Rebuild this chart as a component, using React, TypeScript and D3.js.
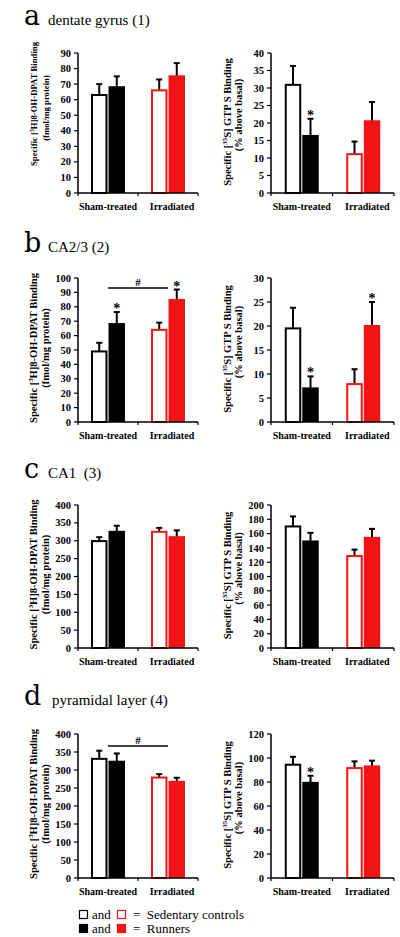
import React from "react";
import * as d3 from "d3";

// ---------- data ----------
const groups = ["Sham-treated", "Irradiated"];
const conditions = ["Sedentary", "Runners"];

const panelLetters = ["a", "b", "c", "d"];
const panelTitles = ["dentate gyrus (1)", "CA2/3 (2)", "CA1  (3)", "pyramidal layer (4)"];

// order: Sham sedentary, Sham runners, Irradiated sedentary, Irradiated runners
const aLeftMean = [63, 68, 66, 75];
const aLeftErr = [7, 7, 7, 8.5];
const aLeftStar = [false, false, false, false];
const aLeftTicks = [0, 10, 20, 30, 40, 50, 60, 70, 80, 90];
const aRightMean = [30.9, 16.3, 11.1, 20.5];
const aRightErr = [5.4, 4.9, 3.6, 5.5];
const aRightStar = [false, true, false, false];
const aRightTicks = [0, 5, 10, 15, 20, 25, 30, 35, 40];

const bLeftMean = [49, 68, 64, 84.7];
const bLeftErr = [6, 8.4, 5, 7.3];
const bLeftStar = [false, true, false, true];
const bLeftTicks = [0, 10, 20, 30, 40, 50, 60, 70, 80, 90, 100];
const bLeftHash = 93;
const bRightMean = [19.5, 7.0, 7.9, 20];
const bRightErr = [4.3, 2.5, 3.1, 5];
const bRightStar = [false, true, false, true];
const bRightTicks = [0, 5, 10, 15, 20, 25, 30];

const cLeftMean = [299, 325, 325, 310];
const cLeftErr = [11, 17, 11, 19];
const cLeftStar = [false, false, false, false];
const cLeftTicks = [0, 50, 100, 150, 200, 250, 300, 350, 400];
const cRightMean = [170, 149, 128.6, 154];
const cRightErr = [14, 12, 9, 12.6];
const cRightStar = [false, false, false, false];
const cRightTicks = [0, 20, 40, 60, 80, 100, 120, 140, 160, 180, 200];

const dLeftMean = [331, 323, 279, 267];
const dLeftErr = [22.6, 23, 9.6, 11.5];
const dLeftStar = [false, false, false, false];
const dLeftTicks = [0, 50, 100, 150, 200, 250, 300, 350, 400];
const dLeftHash = 367;
const dRightMean = [94.4, 79.3, 91.6, 93];
const dRightErr = [6.6, 5.9, 5.6, 4.8];
const dRightStar = [false, true, false, false];
const dRightTicks = [0, 20, 40, 60, 80, 100, 120];

const leftYLabel = ["Specific [", "3", "H]8-OH-DPAT Binding"];
const leftYLabel2 = "(fmol/mg protein)";
const rightYLabel = ["Specific [", "35", "S] GTP S Binding"];
const rightYLabel2 = "(% above basal)";

const legendRows = ["Sedentary controls", "Runners"];

// ---------- layout ----------
const SERIF = "'Liberation Serif', 'Times New Roman', serif";
const RED = "#f21414";

type PlotProps = {
  x0: number; x1: number; top: number; bottom: number;
  means: number[]; errs: number[]; stars: boolean[]; ticks: number[];
  hash?: number; side: "left" | "right"; labelSize: number;
  labelShift1: number; labelShift2: number;
};

function Plot(p: PlotProps) {
  const max = p.ticks[p.ticks.length - 1];
  const y = d3.scaleLinear().domain([0, max]).range([p.bottom, p.top]);
  const outer = d3.scaleBand<string>().domain(groups).range([p.x0, p.x1]).padding(0);
  const inner = d3.scaleBand<number>().domain([0, 1]).range([0, 34]).paddingInner(0.06);
  const bw = inner.bandwidth();
  const center = (g: string) => (outer(g) as number) + outer.bandwidth() / 2;
  const mid = (p.top + p.bottom) / 2;
  const lab = p.side === "left" ? leftYLabel : rightYLabel;
  const lab2 = p.side === "left" ? leftYLabel2 : rightYLabel2;
  const lx1 = p.side === "left" ? 37 : 231;
  const lx2 = p.side === "left" ? 49 : 242;
  return (
    <g>
      {/* y label */}
      <text transform={`translate(${lx1},${mid + p.labelShift1}) rotate(-90)`} textAnchor="middle"
        fontFamily={SERIF} fontWeight="bold" fontSize={p.labelSize}>
        <tspan>{lab[0]}</tspan>
        <tspan fontSize={p.labelSize * 0.65} dy={-p.labelSize * 0.35}>{lab[1]}</tspan>
        <tspan dy={p.labelSize * 0.35}>{lab[2]}</tspan>
      </text>
      <text transform={`translate(${lx2},${mid + p.labelShift2}) rotate(-90)`} textAnchor="middle"
        fontFamily={SERIF} fontWeight="bold" fontSize={p.labelSize}>{lab2}</text>
      {/* bars */}
      {p.means.map((m, i) => {
        const g = groups[Math.floor(i / 2)];
        const c = i % 2;
        const color = Math.floor(i / 2) === 0 ? "#000" : RED;
        const bx = center(g) - 17 + (inner(c) as number);
        const cx = bx + bw / 2;
        const yTop = y(m);
        const yErr = y(m + p.errs[i]);
        return (
          <g key={i}>
            <line x1={cx} x2={cx} y1={yTop} y2={yErr} stroke="#000" strokeWidth={2} />
            <line x1={cx - 3} x2={cx + 3} y1={yErr} y2={yErr} stroke="#000" strokeWidth={2} />
            {c === 0 ? (
              <rect x={bx + 1} y={yTop} width={bw - 2} height={p.bottom - yTop} fill="#fff" stroke={color} strokeWidth={2} />
            ) : (
              <rect x={bx} y={yTop - 1} width={bw} height={p.bottom - yTop + 1} fill={color} />
            )}
            {p.stars[i] && (
              <text x={cx} y={yErr + 1} textAnchor="middle" fontFamily={SERIF} fontSize={14} fontWeight="bold">*</text>
            )}
          </g>
        );
      })}
      {/* hash comparison */}
      {p.hash !== undefined && (
        <g>
          <line x1={center(groups[0])} x2={center(groups[1])} y1={y(p.hash)} y2={y(p.hash)} stroke="#000" strokeWidth={1.5} />
          <text x={(center(groups[0]) + center(groups[1])) / 2} y={y(p.hash) - 2} textAnchor="middle"
            fontFamily={SERIF} fontSize={11} fontWeight="bold">#</text>
        </g>
      )}
      {/* axes */}
      <line x1={p.x0} x2={p.x0} y1={p.top} y2={p.bottom} stroke="#000" strokeWidth={1.5} />
      <line x1={p.x0} x2={p.x1} y1={p.bottom} y2={p.bottom} stroke="#000" strokeWidth={1.5} />
      {p.ticks.map((t) => (
        <g key={t}>
          <line x1={p.x0 - 4} x2={p.x0} y1={y(t)} y2={y(t)} stroke="#000" strokeWidth={1.2} />
          <text x={p.x0 - 7} y={y(t) + 3.6} textAnchor="end" fontFamily={SERIF} fontWeight="bold" fontSize={10.5}>{t}</text>
        </g>
      ))}
      {[p.x0, center(groups[0]) + outer.bandwidth() / 2, p.x1].map((xt, k) => (
        <line key={k} x1={xt} x2={xt} y1={p.bottom} y2={p.bottom + 3} stroke="#000" strokeWidth={1.2} />
      ))}
      {groups.map((g, k) => (
        <text key={g} x={center(g) + (k === 1 ? 4 : 0)} y={p.bottom + 17} textAnchor="middle"
          fontFamily={SERIF} fontWeight="bold" fontSize={10}>{g}</text>
      ))}
    </g>
  );
}

const rows = [
  { top: 53, bottom: 193, titleY: 25, L: { m: aLeftMean, e: aLeftErr, s: aLeftStar, t: aLeftTicks }, R: { m: aRightMean, e: aRightErr, s: aRightStar, t: aRightTicks } },
  { top: 278, bottom: 422, titleY: 252, L: { m: bLeftMean, e: bLeftErr, s: bLeftStar, t: bLeftTicks, h: bLeftHash }, R: { m: bRightMean, e: bRightErr, s: bRightStar, t: bRightTicks } },
  { top: 505, bottom: 648, titleY: 478, L: { m: cLeftMean, e: cLeftErr, s: cLeftStar, t: cLeftTicks }, R: { m: cRightMean, e: cRightErr, s: cRightStar, t: cRightTicks } },
  { top: 734, bottom: 878, titleY: 705, L: { m: dLeftMean, e: dLeftErr, s: dLeftStar, t: dLeftTicks, h: dLeftHash }, R: { m: dRightMean, e: dRightErr, s: dRightStar, t: dRightTicks } },
];

export default function App() {
  return (
    <svg width={400} height={937} style={{ position: "absolute", left: 0, top: 0, background: "#fff" }}>
      <rect width={400} height={937} fill="#fff" />
      {rows.map((r, i) => (
        <g key={i}>
          <text x={24} y={r.titleY} fontFamily="'DejaVu Serif', serif" fontSize={27}>{panelLetters[i]}</text>
          <text x={i === 3 ? 52 : 48} y={r.titleY} fontFamily={SERIF} fontSize={15} style={{ whiteSpace: "pre" }}>{panelTitles[i]}</text>
          <Plot x0={78} x1={198} top={r.top} bottom={r.bottom} means={r.L.m} errs={r.L.e} stars={r.L.s}
            ticks={r.L.t} hash={(r.L as any).h} side="left" labelSize={i === 0 ? 8.7 : 10.5}
            labelShift1={i === 0 ? -19 : -2} labelShift2={i === 0 ? -15 : -2} />
          <Plot x0={271} x1={394} top={r.top} bottom={r.bottom} means={r.R.m} errs={r.R.e} stars={r.R.s}
            ticks={r.R.t} side="right" labelSize={10.5} labelShift1={-1} labelShift2={-8} />
        </g>
      ))}
      {/* legend */}
      {legendRows.map((txt, k) => {
        const yy = 910 + k * 14;
        return (
          <g key={txt}>
            <rect x={79.5} y={yy + 0.5} width={8} height={8} fill={k === 0 ? "#fff" : "#000"} stroke="#000" strokeWidth={1.2} />
            <text x={92} y={yy + 8.5} fontFamily={SERIF} fontSize={13}>and</text>
            <rect x={117.5} y={yy + 0.5} width={8} height={8} fill={k === 0 ? "#fff" : RED} stroke={RED} strokeWidth={1.2} />
            <text x={133} y={yy + 8.5} fontFamily={SERIF} fontSize={13} style={{ whiteSpace: "pre" }}>{"=  " + txt}</text>
          </g>
        );
      })}
    </svg>
  );
}
